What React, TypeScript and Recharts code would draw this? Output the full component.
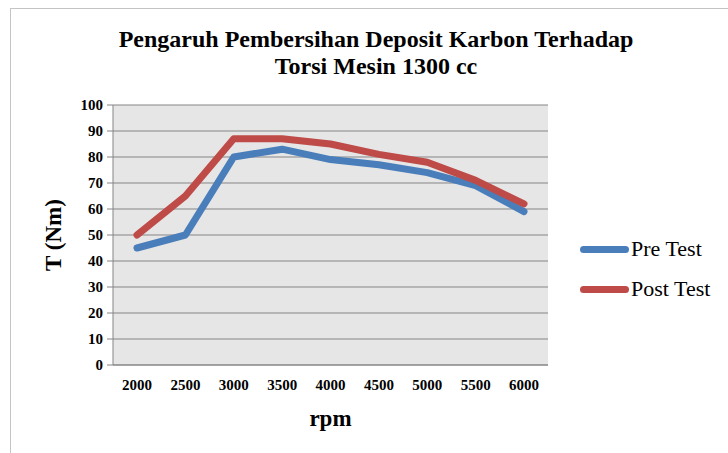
import { LineChart, Line, XAxis, YAxis, CartesianGrid, Label } from 'recharts';

const rpm = ['2000', '2500', '3000', '3500', '4000', '4500', '5000', '5500', '6000'];
const preTest = [45, 50, 80, 83, 79, 77, 74, 69, 59];
const postTest = [50, 65, 87, 87, 85, 81, 78, 71, 62];
const yTicks = [0, 10, 20, 30, 40, 50, 60, 70, 80, 90, 100];

const series = [
  { key: 'pre', name: 'Pre Test', color: '#4a7ebb' },
  { key: 'post', name: 'Post Test', color: '#be4b48' },
];

const data = rpm.map((r, i) => ({ rpm: r, pre: preTest[i], post: postTest[i] }));

const font = 'Liberation Serif';

function LegendBox() {
  return (
    <div
      style={{
        position: 'absolute',
        left: 580,
        top: 229,
        fontFamily: font,
        fontSize: 22,
        color: '#000',
      }}
    >
      {series.map((s) => (
        <div key={s.key} style={{ display: 'flex', alignItems: 'center', height: 40 }}>
          <span
            style={{
              display: 'inline-block',
              width: 49,
              height: 7,
              borderRadius: 4,
              background: s.color,
              marginRight: 2,
            }}
          />
          <span>{s.name}</span>
        </div>
      ))}
    </div>
  );
}

export default function App() {
  return (
    <div style={{ position: 'absolute', left: 0, top: 0, width: 728, height: 453, background: '#fff' }}>
      <div
        style={{
          position: 'absolute',
          left: 10,
          top: 8,
          right: 0,
          bottom: 0,
          borderLeft: '1px solid #c4c4c4',
          borderTop: '1px solid #c4c4c4',
        }}
      />
      <div
        style={{
          position: 'absolute',
          left: 0,
          top: 26,
          width: 728,
          paddingLeft: 24,
          boxSizing: 'border-box',
          textAlign: 'center',
          fontFamily: font,
          fontWeight: 'bold',
          fontSize: 24,
          lineHeight: '27px',
          color: '#000',
        }}
      >
        Pengaruh Pembersihan Deposit Karbon Terhadap
        <br />
        Torsi Mesin 1300 cc
      </div>
      <LineChart
        width={728}
        height={453}
        data={data}
        margin={{ top: 105, right: 180, bottom: 0, left: 0 }}
        style={{ position: 'absolute', left: 0, top: 0 }}
      >
        <CartesianGrid vertical={false} stroke="#858585" fill="#e6e6e6" />
        <XAxis
          dataKey="rpm"
          height={88}
          padding={{ left: 24, right: 24 }}
          axisLine={{ stroke: '#858585' }}
          tickLine={false}
          tickSize={8}
          tickMargin={6}
          tick={{ fontFamily: font, fontSize: 15, fontWeight: 'bold', fill: '#000' }}
        >
          <Label
            value="rpm"
            position="insideBottom"
            offset={27}
            style={{ fontFamily: font, fontSize: 23, fontWeight: 'bold', fill: '#000' }}
          />
        </XAxis>
        <YAxis
          width={113}
          domain={[0, 100]}
          ticks={yTicks}
          interval={0}
          axisLine={{ stroke: '#858585' }}
          tickLine={{ stroke: '#858585' }}
          tickSize={6}
          tickMargin={4}
          tick={{ fontFamily: font, fontSize: 15, fontWeight: 'bold', fill: '#000' }}
        >
          <Label
            value="T (Nm)"
            angle={-90}
            position="center"
            dx={-4}
            style={{ fontFamily: font, fontSize: 23, fontWeight: 'bold', fill: '#000', textAnchor: 'middle' }}
          />
        </YAxis>
        {series.map((s) => (
          <Line
            key={s.key}
            type="linear"
            dataKey={s.key}
            name={s.name}
            stroke={s.color}
            strokeWidth={7}
            strokeLinecap="round"
            strokeLinejoin="round"
            dot={false}
            activeDot={false}
            isAnimationActive={false}
          />
        ))}
      </LineChart>
      <LegendBox />
    </div>
  );
}
